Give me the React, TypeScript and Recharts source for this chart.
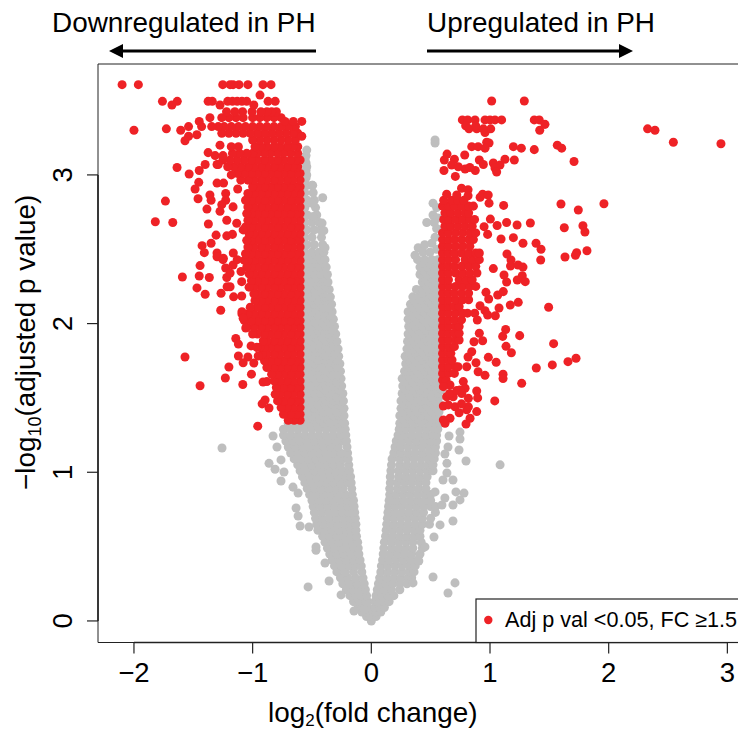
import { ReferenceArea, ReferenceLine, Scatter, ScatterChart, XAxis, YAxis, ZAxis } from "recharts";

type Row = [number, number[]];

const xTicks = [-2, -1, 0, 1, 2, 3];
const yTicks = [0, 1, 2, 3];
const xDomain = [-2.303, 3.275];
const yDomain = [-0.145, 3.746];

// dense clouds: [-log10 p, [log2 fc, ...]]
const grayDownRows: Row[] = [
  [0, [0]],
  [0.03, [-0.04, -0.01]],
  [0.06, [-0.08, -0.04, -0.01]],
  [0.09, [-0.11, -0.07, -0.03]],
  [0.13, [-0.15, -0.1, -0.05, -0.03]],
  [0.17, [-0.18, -0.13, -0.085, -0.04]],
  [0.21, [-0.21, -0.16, -0.105, -0.05]],
  [0.25, [-0.24, -0.18, -0.12, -0.06]],
  [0.29, [-0.26, -0.2, -0.135, -0.07]],
  [0.33, [-0.29, -0.22, -0.15, -0.08]],
  [0.37, [-0.31, -0.25, -0.19, -0.13, -0.085]],
  [0.41, [-0.33, -0.27, -0.21, -0.15, -0.095]],
  [0.45, [-0.35, -0.29, -0.23, -0.17, -0.105]],
  [0.49, [-0.37, -0.31, -0.25, -0.19, -0.15, -0.11]],
  [0.53, [-0.39, -0.33, -0.27, -0.21, -0.16, -0.115]],
  [0.57, [-0.41, -0.35, -0.29, -0.23, -0.175, -0.125]],
  [0.61, [-0.45, -0.39, -0.33, -0.27, -0.21, -0.17, -0.13]],
  [0.65, [-0.46, -0.4, -0.34, -0.28, -0.22, -0.17, -0.13]],
  [0.69, [-0.47, -0.41, -0.35, -0.29, -0.23, -0.18, -0.135]],
  [0.73, [-0.48, -0.42, -0.36, -0.3, -0.24, -0.19, -0.14]],
  [0.77, [-0.49, -0.43, -0.37, -0.31, -0.25, -0.2, -0.145]],
  [0.81, [-0.5, -0.44, -0.38, -0.32, -0.26, -0.2, -0.15]],
  [0.85, [-0.52, -0.46, -0.4, -0.34, -0.28, -0.22, -0.16]],
  [0.89, [-0.54, -0.48, -0.42, -0.36, -0.3, -0.24, -0.165]],
  [0.93, [-0.56, -0.5, -0.44, -0.38, -0.32, -0.26, -0.2, -0.17]],
  [0.97, [-0.58, -0.52, -0.46, -0.4, -0.34, -0.28, -0.22, -0.175]],
  [1.01, [-0.6, -0.54, -0.48, -0.42, -0.36, -0.3, -0.24, -0.185]],
  [1.05, [-0.62, -0.56, -0.5, -0.44, -0.38, -0.32, -0.26, -0.19]],
  [1.09, [-0.65, -0.59, -0.53, -0.47, -0.41, -0.35, -0.29, -0.24, -0.195]],
  [1.13, [-0.68, -0.62, -0.56, -0.5, -0.44, -0.38, -0.32, -0.26, -0.2]],
  [1.17, [-0.7, -0.64, -0.58, -0.52, -0.46, -0.4, -0.34, -0.28, -0.205]],
  [1.21, [-0.72, -0.66, -0.6, -0.54, -0.48, -0.42, -0.36, -0.3, -0.24, -0.21]],
  [1.25, [-0.74, -0.68, -0.62, -0.56, -0.5, -0.44, -0.38, -0.32, -0.26, -0.215]],
  [1.29, [-0.74, -0.68, -0.62, -0.56, -0.5, -0.44, -0.38, -0.32, -0.26, -0.22]],
  [1.33, [-0.7, -0.64, -0.58, -0.52, -0.46, -0.4, -0.34, -0.28, -0.225]],
  [1.355, [-0.55, -0.49, -0.43, -0.37, -0.31, -0.25]],
  [1.38, [-0.56, -0.5, -0.44, -0.38, -0.32, -0.27, -0.23]],
  [1.405, [-0.53, -0.47, -0.41, -0.35, -0.29]],
  [1.43, [-0.54, -0.48, -0.42, -0.36, -0.3, -0.23]],
  [1.455, [-0.51, -0.45, -0.39, -0.33, -0.27]],
  [1.48, [-0.56, -0.5, -0.44, -0.38, -0.32, -0.27, -0.235]],
  [1.505, [-0.53, -0.47, -0.41, -0.35, -0.29]],
  [1.53, [-0.54, -0.48, -0.42, -0.36, -0.3, -0.24]],
  [1.555, [-0.51, -0.45, -0.39, -0.33, -0.27]],
  [1.58, [-0.56, -0.5, -0.44, -0.38, -0.32, -0.25]],
  [1.605, [-0.53, -0.47, -0.41, -0.35, -0.29]],
  [1.63, [-0.54, -0.48, -0.42, -0.36, -0.3, -0.255]],
  [1.655, [-0.51, -0.45, -0.39, -0.33, -0.28]],
  [1.68, [-0.56, -0.5, -0.44, -0.38, -0.32, -0.26]],
  [1.705, [-0.53, -0.47, -0.41, -0.35, -0.29]],
  [1.73, [-0.54, -0.48, -0.42, -0.36, -0.31, -0.265]],
  [1.755, [-0.51, -0.45, -0.39, -0.34, -0.29]],
  [1.78, [-0.56, -0.5, -0.44, -0.38, -0.33, -0.275]],
  [1.805, [-0.53, -0.47, -0.41, -0.35, -0.31]],
  [1.83, [-0.54, -0.48, -0.42, -0.36, -0.28]],
  [1.855, [-0.51, -0.45, -0.39, -0.32]],
  [1.88, [-0.56, -0.5, -0.44, -0.38, -0.33, -0.29]],
  [1.905, [-0.53, -0.47, -0.41, -0.35]],
  [1.93, [-0.54, -0.48, -0.42, -0.36, -0.3]],
  [1.955, [-0.51, -0.45, -0.39, -0.33]],
  [1.98, [-0.56, -0.5, -0.44, -0.38, -0.31]],
  [2.005, [-0.53, -0.47, -0.41, -0.35]],
  [2.03, [-0.54, -0.48, -0.42, -0.37, -0.32]],
  [2.055, [-0.51, -0.45, -0.39, -0.35]],
  [2.08, [-0.56, -0.5, -0.44, -0.38, -0.33]],
  [2.105, [-0.53, -0.47, -0.41, -0.36]],
  [2.13, [-0.54, -0.48, -0.42, -0.335]],
  [2.155, [-0.51, -0.45, -0.39]],
  [2.18, [-0.56, -0.5, -0.44, -0.39, -0.345]],
  [2.205, [-0.53, -0.47, -0.41]],
  [2.23, [-0.54, -0.48, -0.42, -0.355]],
  [2.255, [-0.51, -0.45, -0.39]],
  [2.28, [-0.56, -0.5, -0.44, -0.4, -0.365]],
  [2.305, [-0.53, -0.47, -0.41]],
  [2.33, [-0.54, -0.48, -0.42, -0.37]],
  [2.355, [-0.51, -0.45, -0.4]],
  [2.38, [-0.56, -0.5, -0.44, -0.38]],
  [2.405, [-0.53, -0.47, -0.42]],
  [2.43, [-0.54, -0.48, -0.43, -0.39]],
  [2.455, [-0.51, -0.46]],
  [2.48, [-0.56, -0.5, -0.44, -0.4]],
  [2.53, [-0.54, -0.48, -0.41]],
  [2.58, [-0.56, -0.5, -0.42]],
  [2.63, [-0.54, -0.48, -0.43]],
  [2.68, [-0.56, -0.5, -0.44]],
  [2.73, [-0.54, -0.46]],
  [2.78, [-0.56, -0.47]],
  [2.83, [-0.54, -0.48]],
  [2.88, [-0.56, -0.49]],
  [2.93, [-0.54, -0.5]],
  [2.98, [-0.55]],
  [3.03, [-0.55]],
  [3.08, [-0.55]],
  [3.13, [-0.55]],
];

const grayUpRows: Row[] = [
  [0.03, [0.01, 0.04]],
  [0.06, [0.01, 0.04, 0.08]],
  [0.09, [0.03, 0.07, 0.11]],
  [0.13, [0.03, 0.05, 0.1, 0.15]],
  [0.17, [0.04, 0.09, 0.14, 0.19]],
  [0.21, [0.05, 0.11, 0.17, 0.24]],
  [0.25, [0.06, 0.12, 0.18, 0.24, 0.3]],
  [0.29, [0.07, 0.13, 0.19, 0.25, 0.31, 0.34]],
  [0.33, [0.08, 0.14, 0.2, 0.26, 0.32, 0.36]],
  [0.37, [0.085, 0.14, 0.2, 0.26, 0.32, 0.37]],
  [0.41, [0.095, 0.15, 0.21, 0.27, 0.33, 0.39]],
  [0.45, [0.1, 0.16, 0.22, 0.28, 0.34, 0.41]],
  [0.49, [0.105, 0.17, 0.23, 0.29, 0.35, 0.43]],
  [0.53, [0.11, 0.17, 0.23, 0.29, 0.35, 0.42]],
  [0.57, [0.12, 0.18, 0.24, 0.3, 0.36, 0.41]],
  [0.61, [0.125, 0.18, 0.24, 0.3, 0.36, 0.41]],
  [0.65, [0.13, 0.19, 0.25, 0.31, 0.37, 0.43, 0.49]],
  [0.69, [0.135, 0.19, 0.25, 0.31, 0.37, 0.43, 0.5]],
  [0.73, [0.14, 0.2, 0.26, 0.32, 0.38, 0.44, 0.54]],
  [0.77, [0.145, 0.2, 0.26, 0.32, 0.38, 0.44, 0.5, 0.54]],
  [0.81, [0.15, 0.21, 0.27, 0.33, 0.39, 0.45, 0.5]],
  [0.85, [0.155, 0.21, 0.27, 0.33, 0.39, 0.45, 0.5]],
  [0.89, [0.155, 0.22, 0.28, 0.34, 0.4, 0.46]],
  [0.93, [0.16, 0.22, 0.28, 0.34, 0.4, 0.46]],
  [0.97, [0.16, 0.23, 0.29, 0.35, 0.41, 0.47]],
  [1.01, [0.165, 0.23, 0.29, 0.35, 0.41, 0.47, 0.52]],
  [1.05, [0.17, 0.24, 0.3, 0.36, 0.42, 0.48, 0.52]],
  [1.09, [0.175, 0.24, 0.3, 0.36, 0.42, 0.48, 0.53]],
  [1.13, [0.19, 0.25, 0.31, 0.37, 0.43, 0.49, 0.54]],
  [1.17, [0.2, 0.25, 0.31, 0.37, 0.43, 0.49, 0.54]],
  [1.21, [0.21, 0.26, 0.32, 0.38, 0.44, 0.5, 0.55]],
  [1.25, [0.225, 0.28, 0.34, 0.4, 0.46, 0.52, 0.55]],
  [1.29, [0.235, 0.29, 0.35, 0.41, 0.47, 0.53, 0.56]],
  [1.33, [0.24, 0.3, 0.36, 0.42, 0.48, 0.54, 0.58]],
  [1.355, [0.27, 0.33, 0.39, 0.45, 0.51, 0.57]],
  [1.38, [0.24, 0.3, 0.36, 0.42, 0.48, 0.54]],
  [1.405, [0.27, 0.33, 0.39, 0.45, 0.51, 0.57]],
  [1.43, [0.25, 0.31, 0.37, 0.43, 0.49, 0.55]],
  [1.455, [0.28, 0.34, 0.4, 0.46, 0.52, 0.58]],
  [1.48, [0.25, 0.3, 0.36, 0.42, 0.48, 0.54]],
  [1.505, [0.28, 0.33, 0.39, 0.45, 0.51, 0.57]],
  [1.53, [0.26, 0.32, 0.38, 0.44, 0.5, 0.56]],
  [1.555, [0.29, 0.35, 0.41, 0.47, 0.53, 0.59]],
  [1.58, [0.265, 0.32, 0.38, 0.44, 0.5, 0.56]],
  [1.605, [0.29, 0.35, 0.41, 0.47, 0.53, 0.59]],
  [1.63, [0.26, 0.33, 0.39, 0.45, 0.51, 0.57]],
  [1.655, [0.3, 0.36, 0.42, 0.48, 0.54]],
  [1.68, [0.28, 0.33, 0.39, 0.45, 0.51, 0.57]],
  [1.705, [0.31, 0.36, 0.42, 0.48, 0.54]],
  [1.73, [0.29, 0.34, 0.4, 0.46, 0.52, 0.58]],
  [1.755, [0.32, 0.37, 0.43, 0.49, 0.55]],
  [1.78, [0.285, 0.34, 0.4, 0.46, 0.52, 0.58]],
  [1.805, [0.32, 0.37, 0.43, 0.49, 0.55]],
  [1.83, [0.3, 0.35, 0.41, 0.47, 0.53]],
  [1.855, [0.33, 0.38, 0.44, 0.5, 0.56]],
  [1.88, [0.305, 0.36, 0.42, 0.48, 0.54]],
  [1.905, [0.34, 0.39, 0.45, 0.51, 0.57]],
  [1.93, [0.31, 0.37, 0.43, 0.49, 0.55]],
  [1.955, [0.34, 0.4, 0.46, 0.52, 0.58]],
  [1.98, [0.315, 0.37, 0.43, 0.49, 0.55]],
  [2.005, [0.34, 0.4, 0.46, 0.52, 0.58]],
  [2.03, [0.31, 0.38, 0.44, 0.5, 0.56]],
  [2.055, [0.35, 0.41, 0.47, 0.53, 0.59]],
  [2.08, [0.31, 0.38, 0.44, 0.5, 0.56]],
  [2.105, [0.35, 0.41, 0.47, 0.53, 0.59]],
  [2.13, [0.33, 0.39, 0.45, 0.51, 0.57]],
  [2.155, [0.36, 0.42, 0.48, 0.54]],
  [2.18, [0.35, 0.4, 0.46, 0.52, 0.58]],
  [2.205, [0.43, 0.49, 0.55]],
  [2.23, [0.38, 0.43, 0.49, 0.55]],
  [2.255, [0.46, 0.52, 0.58]],
  [2.28, [0.43, 0.48, 0.54]],
  [2.305, [0.45, 0.51, 0.57]],
  [2.33, [0.41, 0.47, 0.53]],
  [2.355, [0.44, 0.5, 0.56]],
  [2.38, [0.41, 0.47, 0.53]],
  [2.405, [0.44, 0.5, 0.56]],
  [2.43, [0.39, 0.45, 0.51, 0.56]],
];

const grayOutliers = [
  [-1.258, 1.163], [1.085, 1.05], [-0.533, 0.229], [-0.828, 1.244], [-0.795, 1.17], [-0.862, 1.06], [-0.811, 1.02],
  [-0.761, 1.083], [-0.736, 1.002], [-0.761, 0.941], [-0.66, 0.9], [-0.617, 0.86], [-0.634, 0.76], [-0.617, 0.706],
  [-0.6, 0.639], [-0.525, 0.632], [-0.466, 0.498], [-0.466, 0.475], [-0.39, 0.39], [-0.356, 0.269], [-0.255, 0.175],
  [-0.146, 0.067], [0.655, 1.244], [0.747, 1.27], [0.747, 1.224], [0.646, 1.17], [0.739, 1.15], [0.798, 1.076],
  [0.62, 1.123], [0.637, 1.06], [0.637, 0.995], [0.688, 0.948], [0.604, 0.948], [0.537, 0.868], [0.713, 0.868],
  [0.781, 0.86], [0.62, 0.827], [0.688, 0.78], [0.747, 0.814], [0.595, 0.78], [0.688, 0.672], [0.579, 0.646],
  [0.528, 0.565], [0.452, 0.498], [0.52, 0.296], [0.705, 0.256], [0.646, 0.188], [0.351, 0.256], [0.4, 0.403],
  [0.537, 3.235], [0.537, 3.215], [0.52, 2.81], [0.55, 2.78], [0.52, 2.73], [0.56, 2.71], [0.467, 2.68], [0.53, 2.68],
  [0.55, 2.64], [0.537, 2.58], [0.51, 2.54], [0.395, 2.51], [0.368, 2.46], [0.436, 2.48], [0.494, 2.48], [0.55, 2.5],
  [0.45, 2.53], [-0.544, 3.167], [-0.558, 3.107], [-0.544, 3.055], [-0.544, 3.0], [-0.494, 2.93], [-0.41, 2.846],
  [-0.502, 2.81], [-0.49, 2.72], [-0.415, 2.676], [-0.4, 2.625], [-0.39, 2.51],
];

const redDownRows: Row[] = [
  [1.35, [-0.6, -0.65, -0.7]],
  [1.39, [-0.6, -0.63, -0.68, -0.74]],
  [1.435, [-0.6, -0.66, -0.71, -0.76]],
  [1.48, [-0.6, -0.63, -0.68, -0.74, -0.79]],
  [1.525, [-0.6, -0.66, -0.71, -0.77, -0.81]],
  [1.57, [-0.6, -0.63, -0.68, -0.74, -0.8]],
  [1.615, [-0.6, -0.66, -0.71, -0.77, -0.82]],
  [1.66, [-0.6, -0.63, -0.68, -0.74, -0.79, -0.84]],
  [1.705, [-0.6, -0.66, -0.71, -0.77, -0.82, -0.88]],
  [1.75, [-0.6, -0.63, -0.68, -0.74, -0.79, -0.85, -0.9]],
  [1.795, [-0.6, -0.66, -0.71, -0.77, -0.82, -0.88, -0.92]],
  [1.84, [-0.6, -0.63, -0.68, -0.74, -0.79, -0.85, -0.9, -0.94]],
  [1.885, [-0.6, -0.66, -0.71, -0.77, -0.82, -0.88, -0.91]],
  [1.93, [-0.6, -0.63, -0.68, -0.74, -0.79, -0.85, -0.9, -0.96, -1.0]],
  [1.975, [-0.6, -0.66, -0.71, -0.77, -0.82, -0.88, -0.93, -0.99, -1.05]],
  [2.02, [-0.6, -0.63, -0.68, -0.74, -0.79, -0.85, -0.9, -0.96, -1.01, -1.07]],
  [2.065, [-0.6, -0.66, -0.71, -0.77, -0.82, -0.88, -0.93, -0.99, -1.04, -1.09]],
  [2.11, [-0.6, -0.63, -0.68, -0.74, -0.79, -0.85, -0.9, -0.96, -1.02]],
  [2.155, [-0.6, -0.66, -0.71, -0.77, -0.82, -0.88, -0.93, -0.98]],
  [2.2, [-0.6, -0.63, -0.68, -0.74, -0.79, -0.85, -0.9, -0.96, -0.99]],
  [2.245, [-0.6, -0.66, -0.71, -0.77, -0.82, -0.88, -0.93, -0.99, -1.03]],
  [2.29, [-0.6, -0.63, -0.68, -0.74, -0.79, -0.85, -0.9, -0.96, -1.01]],
  [2.335, [-0.6, -0.66, -0.71, -0.77, -0.82, -0.88, -0.93, -0.99, -1.03]],
  [2.38, [-0.6, -0.63, -0.68, -0.74, -0.79, -0.85, -0.9, -0.96, -1.01, -1.05]],
  [2.425, [-0.6, -0.66, -0.71, -0.77, -0.82, -0.88, -0.93, -0.99, -1.04, -1.07]],
  [2.47, [-0.6, -0.63, -0.68, -0.74, -0.79, -0.85, -0.9, -0.96, -1.01, -1.06]],
  [2.515, [-0.6, -0.66, -0.71, -0.77, -0.82, -0.88, -0.93, -0.99, -1.04]],
  [2.56, [-0.6, -0.63, -0.68, -0.74, -0.79, -0.85, -0.9, -0.96, -1.01, -1.05]],
  [2.605, [-0.6, -0.66, -0.71, -0.77, -0.82, -0.88, -0.93, -0.99, -1.03]],
  [2.65, [-0.6, -0.63, -0.68, -0.74, -0.79, -0.85, -0.9, -0.96, -1.01, -1.06]],
  [2.695, [-0.6, -0.66, -0.71, -0.77, -0.82, -0.88, -0.93, -0.99, -1.04]],
  [2.74, [-0.6, -0.63, -0.68, -0.74, -0.79, -0.85, -0.9, -0.96, -1.01, -1.05]],
  [2.785, [-0.6, -0.66, -0.71, -0.77, -0.82, -0.88, -0.93, -0.99, -1.04]],
  [2.83, [-0.6, -0.63, -0.68, -0.74, -0.79, -0.85, -0.9, -0.96, -1.01, -1.06]],
  [2.875, [-0.6, -0.66, -0.71, -0.77, -0.82, -0.88, -0.93, -0.99, -1.04]],
  [2.92, [-0.6, -0.63, -0.68, -0.74, -0.79, -0.85, -0.9, -0.96, -1.0]],
  [2.965, [-0.6, -0.66, -0.71, -0.77, -0.82, -0.88, -0.93, -0.99, -1.04, -1.1]],
  [3.01, [-0.6, -0.63, -0.68, -0.74, -0.79, -0.85, -0.9, -0.96, -1.01, -1.07, -1.13]],
  [3.055, [-0.62, -0.66, -0.71, -0.77, -0.82, -0.88, -0.93, -0.99, -1.04, -1.1, -1.16, -1.21]],
  [3.1, [-0.6, -0.63, -0.68, -0.74, -0.79, -0.85, -0.9, -0.96, -1.01, -1.07, -1.13, -1.19, -1.25]],
  [3.145, [-0.62, -0.68, -0.74, -0.79, -0.85, -0.9, -0.96, -1.0, -1.05, -1.11, -1.17]],
  [3.19, [-0.62, -0.66, -0.71, -0.77, -0.82, -0.88, -0.93, -0.98, -1.12, -1.18]],
  [3.235, [-0.64, -0.7, -0.76, -0.82, -0.88, -0.94, -1.0]],
  [3.28, [-0.62, -0.66, -0.72, -0.78, -0.84, -0.9, -0.96, -1.02, -1.08, -1.14, -1.2, -1.26]],
  [3.325, [-0.64, -0.7, -0.76, -0.82, -0.88, -0.94, -1.0, -1.06, -1.12, -1.18, -1.24, -1.29, -1.345, -1.43]],
  [3.385, [-0.76, -0.82, -0.88, -0.94, -1.0, -1.08, -1.14, -1.2, -1.26, -1.36]],
  [3.425, [-0.8, -0.84, -0.88, -0.93, -1.005, -1.085, -1.15, -1.22]],
  [3.495, [-0.81, -0.87, -1.05, -1.09, -1.13, -1.17, -1.21, -1.34, -1.375, -1.635, -1.76]],
  [3.607, [-0.845, -0.913, -1.04, -1.115, -1.165, -1.19, -1.252, -1.963, -2.1]],
];

const redDownOutliers = [
  [-0.938, 3.537], [-1.68, 3.47], [-1.275, 3.47], [-0.99, 3.47], [-1.45, 3.36], [-0.727, 3.36], [-0.657, 3.36],
  [-0.586, 3.36], [-1.54, 3.325], [-1.606, 3.3], [-2.0, 3.3], [-1.727, 3.31], [-1.47, 3.27], [-1.54, 3.26], [-1.57, 3.23],
  [-1.275, 3.2], [-1.316, 3.13], [-0.586, 3.26], [-1.375, 3.15], [-1.637, 3.05], [-1.3, 3.07], [-1.25, 3.13],
  [-1.535, 3.006], [-1.45, 3.03], [-1.4, 3.07], [-1.29, 3.07], [-1.3, 2.945], [-1.245, 2.945], [-1.18, 3.0],
  [-1.454, 2.95], [-1.485, 2.905], [-1.46, 2.84], [-1.735, 2.824], [-1.36, 2.865], [-1.35, 2.83], [-1.385, 2.77],
  [-1.227, 2.875], [-1.227, 2.83], [-1.26, 2.8], [-1.275, 2.755], [-1.126, 2.905], [-1.165, 2.785], [-1.82, 2.685],
  [-1.673, 2.68], [-1.373, 2.67], [-1.218, 2.695], [-1.134, 2.675], [-1.308, 2.595], [-1.218, 2.59], [-1.17, 2.6],
  [-1.35, 2.54], [-1.426, 2.524], [-1.407, 2.477], [-1.3, 2.475], [-1.247, 2.44], [-1.163, 2.475], [-1.08, 2.63],
  [-1.3, 2.45], [-1.25, 2.43], [-1.165, 2.394], [-1.13, 2.43], [-1.227, 2.374], [-1.443, 2.39], [-1.45, 2.32],
  [-1.592, 2.313], [-1.365, 2.31], [-1.218, 2.31], [-1.19, 2.34], [-1.098, 2.35], [-1.469, 2.24], [-1.4, 2.197],
  [-1.266, 2.204], [-1.215, 2.248], [-1.19, 2.248], [-1.16, 2.18], [-1.092, 2.186], [-1.092, 2.282], [-1.269, 2.09],
  [-1.09, 2.08], [-1.08, 2.036], [-1.058, 1.97], [-1.142, 1.9], [-1.12, 1.862], [-1.013, 1.85], [-0.965, 1.84],
  [-1.12, 1.782], [-1.04, 1.775], [-1.08, 1.737], [-0.99, 1.735], [-0.953, 1.782], [-1.57, 1.775], [-1.2, 1.708],
  [-1.23, 1.634], [-1.01, 1.66], [-1.443, 1.582], [-1.083, 1.59], [-0.912, 1.607], [-0.88, 1.61], [-0.895, 1.486],
  [-0.92, 1.46], [-0.862, 1.432], [-0.957, 1.31],
];

const redUpRows: Row[] = [
  [1.62, [0.6, 0.63]],
  [1.665, [0.6, 0.65, 0.7]],
  [1.71, [0.6, 0.65, 0.71, 0.73]],
  [1.755, [0.6, 0.65, 0.68]],
  [1.8, [0.6, 0.65, 0.67]],
  [1.845, [0.6, 0.65, 0.7]],
  [1.89, [0.6, 0.65, 0.71, 0.74]],
  [1.935, [0.6, 0.65, 0.7, 0.74]],
  [1.98, [0.6, 0.65, 0.71, 0.74]],
  [2.025, [0.6, 0.65, 0.7, 0.76]],
  [2.07, [0.6, 0.65, 0.71, 0.77, 0.81]],
  [2.115, [0.6, 0.65, 0.7, 0.74]],
  [2.16, [0.6, 0.65, 0.71, 0.77, 0.82]],
  [2.205, [0.6, 0.65, 0.7, 0.76, 0.82]],
  [2.25, [0.6, 0.65, 0.71, 0.77, 0.83, 0.88]],
  [2.295, [0.6, 0.65, 0.74, 0.8, 0.85]],
  [2.34, [0.6, 0.65, 0.71, 0.77, 0.83, 0.89]],
  [2.385, [0.6, 0.65, 0.7, 0.76, 0.82, 0.88]],
  [2.43, [0.6, 0.65, 0.71, 0.79, 0.85, 0.91]],
  [2.475, [0.6, 0.65, 0.7, 0.76, 0.82, 0.88, 0.91]],
  [2.52, [0.6, 0.65, 0.71, 0.77, 0.83]],
  [2.565, [0.6, 0.65, 0.7, 0.76, 0.82, 0.86]],
  [2.61, [0.6, 0.65, 0.71, 0.77, 0.83, 0.88]],
  [2.655, [0.62, 0.67, 0.73, 0.79, 0.85]],
  [2.7, [0.61, 0.65, 0.71, 0.77, 0.83, 0.87]],
  [2.745, [0.62, 0.67, 0.73, 0.79, 0.82]],
  [2.79, [0.6, 0.65, 0.7, 0.76, 0.82, 0.86]],
  [2.83, [0.61, 0.68, 0.73, 0.78]],
];

const redUpOutliers = [
  [0.635, 2.87], [0.72, 2.865], [0.76, 2.91], [0.815, 2.9], [0.815, 2.86], [0.917, 2.85], [0.938, 2.87], [0.985, 2.865],
  [0.992, 2.81], [1.115, 2.795], [1.598, 2.804], [1.744, 2.764], [1.96, 2.806], [1.014, 3.497], [1.289, 3.497],
  [2.328, 3.31], [2.39, 3.3], [2.545, 3.22], [2.946, 3.21], [0.767, 3.37], [0.812, 3.37], [0.874, 3.37], [0.958, 3.37],
  [1.0, 3.37], [1.042, 3.37], [1.098, 3.37], [1.373, 3.37], [1.415, 3.37], [1.463, 3.34], [1.419, 3.3], [0.795, 3.33],
  [0.823, 3.31], [0.888, 3.31], [0.88, 3.33], [0.958, 3.285], [1.006, 3.31], [0.944, 3.31], [0.972, 3.22], [0.992, 3.215],
  [0.846, 3.19], [0.9, 3.19], [0.958, 3.18], [1.197, 3.19], [1.264, 3.18], [1.373, 3.17], [1.567, 3.2], [1.604, 3.18],
  [1.708, 3.09], [0.638, 3.14], [0.615, 3.1], [0.7, 3.105], [0.787, 3.134], [0.91, 3.1], [0.944, 3.07], [1.126, 3.105],
  [1.205, 3.1], [1.028, 3.08], [1.084, 3.066], [1.042, 3.046], [1.056, 3.02], [0.612, 3.03], [0.677, 3.066], [0.733, 3.055],
  [0.79, 3.04], [0.876, 3.03], [0.83, 3.05], [0.708, 2.99], [1.003, 2.703], [1.06, 2.66], [1.14, 2.68], [1.228, 2.663],
  [1.34, 2.677], [1.626, 2.645], [1.783, 2.658], [1.8, 2.616], [0.95, 2.652], [0.98, 2.6], [1.093, 2.569], [1.197, 2.578],
  [1.278, 2.54], [1.388, 2.54], [1.43, 2.5], [1.143, 2.468], [1.817, 2.49], [1.73, 2.477], [1.72, 2.46], [1.632, 2.448],
  [1.427, 2.428], [1.177, 2.428], [1.028, 2.37], [1.173, 2.387], [1.236, 2.394], [1.278, 2.38], [1.118, 2.327],
  [1.272, 2.322], [1.23, 2.293], [1.297, 2.282], [1.14, 2.28], [0.966, 2.21], [0.989, 2.165], [1.065, 2.192], [1.112, 2.215],
  [0.916, 2.12], [0.958, 2.087], [0.98, 2.058], [1.045, 2.053], [1.076, 2.105], [1.171, 2.125], [1.238, 2.143], [1.494, 2.11],
  [0.871, 2.07], [0.893, 2.024], [1.132, 1.96], [1.107, 1.914], [1.25, 1.919], [0.91, 1.935], [0.938, 1.885], [0.865, 1.878],
  [1.536, 1.865], [1.135, 1.847], [1.18, 1.804], [0.986, 1.773], [1.052, 1.74], [1.725, 1.767], [1.657, 1.744], [1.525, 1.722],
  [1.39, 1.701], [1.11, 1.66], [1.11, 1.63], [1.267, 1.598], [0.958, 1.652], [0.9, 1.676], [0.882, 1.737], [0.846, 1.811],
  [0.815, 1.775], [0.804, 1.71], [0.775, 1.61], [0.79, 1.565], [0.762, 1.53], [0.888, 1.547], [0.896, 1.5], [1.04, 1.48],
  [0.818, 1.497], [0.818, 1.44], [0.888, 1.408], [0.832, 1.363], [0.798, 1.325], [0.663, 1.587], [0.607, 1.576], [0.635, 1.508],
  [0.69, 1.508], [0.705, 1.44], [0.607, 1.446], [0.649, 1.453], [0.607, 1.352], [0.663, 1.363], [0.621, 1.33], [0.747, 1.553],
  [0.804, 1.42], [0.66, 1.53], [0.72, 1.55], [0.76, 1.46], [0.74, 1.4],
];

const fromRows = (rows: Row[]) => rows.flatMap(([y, xs]) => xs.map((x) => ({ x, y })));
const fromPairs = (pairs: number[][]) => pairs.map(([x, y]) => ({ x, y }));

const grayPoints = [...fromRows(grayDownRows), ...fromRows(grayUpRows), ...fromPairs(grayOutliers)];
const redPoints = [
  ...fromRows(redDownRows),
  ...fromRows(redUpRows),
  ...fromPairs(redDownOutliers),
  ...fromPairs(redUpOutliers),
];

const FONT = "'Liberation Sans', Arial, sans-serif";
const RED = "#EE2226";
const GRAY = "#BEBEBE";
const AXIS = "#222222";

const minus = (v: number) => (v < 0 ? `\u2212${-v}` : `${v}`);

const YTick = ({ x, y, payload }: any) => (
  <text
    x={x}
    y={y}
    transform={`rotate(-90 ${x} ${y})`}
    textAnchor="middle"
    fontFamily={FONT}
    fontSize={27.5}
    fill="#000"
  >
    {payload.value}
  </text>
);

const Overlay = () => (
  <svg width={760} height={730} style={{ position: "absolute", left: 0, top: 0 }} fontFamily={FONT} fill="#000">
    <text x={52} y={32} fontSize={27.9}>Downregulated in PH</text>
    <text x={427} y={32} fontSize={27.9}>Upregulated in PH</text>
    <line x1={316} x2={120} y1={51} y2={51} stroke="#000" strokeWidth={3} />
    <polygon points="109,51 123,44 123,58" />
    <line x1={427} x2={622} y1={51} y2={51} stroke="#000" strokeWidth={3} />
    <polygon points="633,51 619,44 619,58" />
    <text x={268} y={721.5} fontSize={27.9}>
      log<tspan fontSize={17} dy={4.5}>2</tspan>
      <tspan dy={-4.5}>(fold change)</tspan>
    </text>
    <text transform="translate(35 490) rotate(-90)" fontSize={27.9}>
      {"\u2212log"}
      <tspan fontSize={18} dy={6}>10</tspan>
      <tspan dy={-6}>(adjusted p value)</tspan>
    </text>
    <rect x={476} y={599} width={300} height={43.5} fill="#fff" stroke={AXIS} strokeWidth={1.2} />
    <circle cx={488.3} cy={620} r={4.2} fill={RED} />
    <text x={505} y={627} fontSize={21.6}>{"Adj p val <0.05, FC \u22651.5"}</text>
  </svg>
);

export default function App() {
  return (
    <div style={{ position: "fixed", left: 0, top: 0, width: 738, height: 730, overflow: "hidden", background: "#fff" }}>
      <ScatterChart width={760} height={730} margin={{ top: 64, right: 0, bottom: 0, left: 0 }}>
        <XAxis
          type="number"
          dataKey="x"
          domain={xDomain}
          ticks={xTicks}
          interval={0}
          height={87.5}
          axisLine={false}
          tickLine={{ stroke: AXIS, strokeWidth: 1.2 }}
          tickSize={11}
          tickMargin={9}
          tickFormatter={minus}
          tick={{ fontFamily: FONT, fontSize: 27.5, fill: "#000" }}
        />
        <YAxis
          type="number"
          dataKey="y"
          domain={yDomain}
          ticks={yTicks}
          interval={0}
          width={98}
          axisLine={false}
          tickLine={{ stroke: AXIS, strokeWidth: 1.2 }}
          tickSize={11}
          tickMargin={15}
          tick={<YTick />}
        />
        <ZAxis type="number" range={[56, 56]} />
        <ReferenceArea
          x1={xDomain[0]}
          x2={xDomain[1]}
          y1={yDomain[0]}
          y2={yDomain[1]}
          fill="none"
          stroke={AXIS}
          strokeWidth={1}
        />
        <Scatter data={grayPoints} fill={GRAY} isAnimationActive={false} />
        <Scatter data={redPoints} fill={RED} isAnimationActive={false} />
        <ReferenceLine
          segment={[{ x: xTicks[0], y: yDomain[0] }, { x: xTicks[5], y: yDomain[0] }]}
          stroke={AXIS}
          strokeWidth={1.6}
        />
        <ReferenceLine
          segment={[{ x: xDomain[0], y: yTicks[0] }, { x: xDomain[0], y: yTicks[3] }]}
          stroke={AXIS}
          strokeWidth={1.6}
        />
      </ScatterChart>
      <Overlay />
    </div>
  );
}
